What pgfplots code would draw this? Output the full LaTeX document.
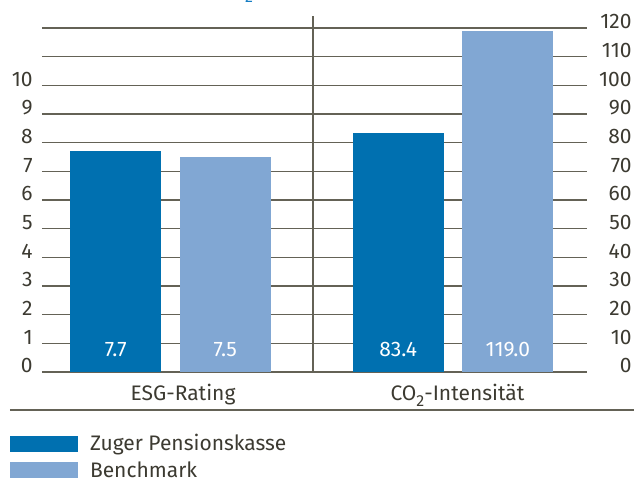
\documentclass[border=0pt]{standalone}
\usepackage{fontspec}
\setmainfont{Fira Sans}
\usepackage{pgfplots}
\pgfplotsset{compat=1.18}
\definecolor{zdark}{RGB}{0,112,176}
\definecolor{zlight}{RGB}{129,167,211}
\definecolor{txt}{RGB}{60,58,49}
\definecolor{gridc}{RGB}{100,98,86}
\definecolor{titleblue}{RGB}{20,125,195}
\begin{document}
\begin{tikzpicture}
\useasboundingbox (0,0) rectangle (317pt,240.5pt);
\pgfplotsset{
  common/.style={
    width=272.5pt, height=172pt, scale only axis,
    at={(21pt,54.5pt)}, anchor=south west,
    xmin=-0.4549, xmax=1.4743,
    axis line style={draw=none},
    major tick style={draw=none}, minor tick style={draw=none},
    /pgf/number format/assume math mode=true,
    ticklabel style={font=\fontsize{10.5}{12}\selectfont, text=txt},
    clip=false,
  },
  vals/.style={draw=none, mark=none, forget plot,
    nodes near coords, point meta=explicit symbolic,
    nodes near coords style={anchor=center, yshift=11pt, text=white, inner sep=0pt,
      font=\fontsize{10.5}{12}\selectfont}},
}
\begin{axis}[common,
  ymin=0, ymax=12,
  ytick={0,1,2,3,4,5,6,7,8,9,10,11,12},
  yticklabels={0,1,2,3,4,5,6,7,8,9,10,{},{}},
  ymajorgrids, grid style={color=gridc, line width=0.8pt},
  yticklabel pos=left,
  yticklabel style={anchor=east, inner sep=0pt, xshift=-4.5pt, yshift=3pt},
  xtick={0.0442,1.0159},
  xticklabels={ESG-Rating, CO\raisebox{-3.2pt}{\fontsize{8}{9}\selectfont 2}-Intensität},
  xticklabel style={anchor=base, inner sep=0pt, yshift=-14.3pt},
  legend style={at={(axis description cs:-0.0587,-0.186)}, anchor=north west,
    draw=none, fill=none, inner sep=0pt, outer sep=0pt, row sep=5.25pt,
    font=\fontsize{10.5}{12}\selectfont, text=txt,
    nodes={inner sep=0pt, text height=7pt, text depth=0pt},
    /tikz/every odd column/.append style={column sep=6pt}},
  legend cell align=left,
  legend image code/.code={\fill[#1,draw=none] (0pt,-4pt) rectangle (34pt,4pt);},
]
\addplot[ybar, bar width=0.3221, bar shift=-0.194, fill=zdark, draw=none] coordinates {(0,7.7)};
\addlegendentry{Zuger Pensionskasse}
\addplot[ybar, bar width=0.3221, bar shift=0.194, fill=zlight, draw=none] coordinates {(0,7.5)};
\addlegendentry{Benchmark}
\addplot[vals] coordinates {(-0.194,0)[7.7] (0.194,0)[7.5]};
\draw[gridc, line width=0.8pt] (axis cs:0.5044,0) -- (axis cs:0.5044,12.417);
\end{axis}
\begin{axis}[common,
  ymin=0, ymax=120,
  ytick={0,10,...,120},
  yticklabel pos=right,
  yticklabel style={anchor=east, inner sep=0pt, xshift=22.5pt, yshift=3pt},
  xtick=\empty,
]
\addplot[ybar, bar width=0.3221, bar shift=-0.194, fill=zdark, draw=none] coordinates {(1,83.4)};
\addplot[ybar, bar width=0.3221, bar shift=0.194, fill=zlight, draw=none] coordinates {(1,119.0)};
\addplot[vals] coordinates {(0.806,0)[83.4] (1.194,0)[119.0]};
\end{axis}
\draw[gridc, line width=0.8pt] (5pt,35.5pt) -- (317pt,35.5pt);
\node[anchor=south, inner sep=0pt, font=\fontsize{8}{9}\selectfont, text=titleblue] at (124.5pt,239pt) {2};
\end{tikzpicture}
\end{document}
